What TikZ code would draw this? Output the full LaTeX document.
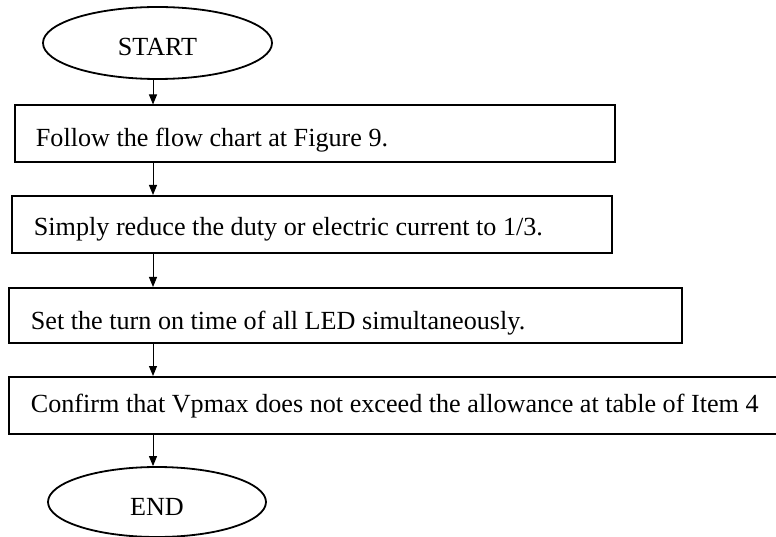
\documentclass[tikz,border=0pt]{standalone}
\usepackage{fontspec}
\setmainfont{Liberation Serif}
\usetikzlibrary{shapes.geometric,arrows.meta}
\newcommand{\lefttext}[2]{\makebox[#1][l]{#2}}
\begin{document}
\begin{tikzpicture}[x=1pt,y=-1pt,
  box/.style={draw,line width=1.8pt,rectangle,anchor=north west,inner ysep=0pt,
    text depth=0pt,font=\fontsize{26.15}{30}\selectfont},
  term/.style={draw,line width=1.8pt,ellipse,inner sep=0pt,text depth=0pt,
    font=\fontsize{26.15}{30}\selectfont},
  arr/.style={line width=1pt,-{Triangle[length=10pt,width=8pt]}}]
\useasboundingbox (0,0) rectangle (776,537);
\node[term,minimum width=229pt,minimum height=72pt,text height=24.3pt] (start) at (157.5,43) {START};
\node[box,minimum width=600pt,minimum height=56.5pt,inner xsep=21pt,text height=25.3pt] (b1) at (14,104.5)
  {\lefttext{558pt}{Follow the flow chart at Figure 9.}};
\node[box,minimum width=600pt,minimum height=57pt,inner xsep=22pt,text height=22.3pt] (b2) at (11,195)
  {\lefttext{556pt}{Simply reduce the duty or electric current to 1/3.}};
\node[box,minimum width=673pt,minimum height=55pt,inner xsep=22pt,text height=27.3pt] (b3) at (8,287)
  {\lefttext{629pt}{Set the turn on time of all LED simultaneously.}};
\node[box,minimum width=800pt,minimum height=57pt,inner xsep=22pt,text height=14.3pt] (b4) at (8,376)
  {\lefttext{756pt}{Confirm that Vpmax does not exceed the allowance at table of Item 4}};
\node[term,minimum width=218pt,minimum height=70pt,text height=27.3pt] (end) at (157,502) {END};
\coordinate (ax) at (153,0);
\draw[arr] (start.south -| ax) -- (b1.north -| ax);
\draw[arr] (b1.south -| ax) -- (b2.north -| ax);
\draw[arr] (b2.south -| ax) -- (b3.north -| ax);
\draw[arr] (b3.south -| ax) -- (b4.north -| ax);
\draw[arr] (b4.south -| ax) -- (end.north -| ax);
\end{tikzpicture}
\end{document}
